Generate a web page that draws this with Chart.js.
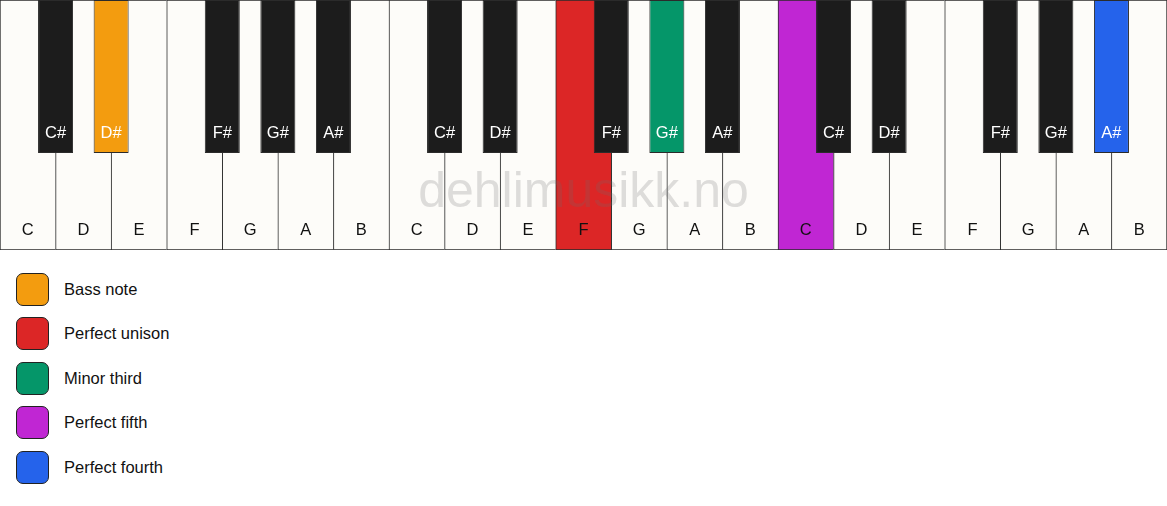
<!DOCTYPE html>
<html>
<head>
<meta charset="utf-8">
<script src="https://cdn.jsdelivr.net/npm/chart.js@4.4.1/dist/chart.umd.min.js"></script>
<style>
  body { margin: 0; background: #fff; font-family: "Liberation Sans", Arial, sans-serif; }
  #wrap { position: relative; width: 1167px; height: 250px; }
  #legend { position: absolute; left: 16px; top: 272px; }
  .item { display: flex; align-items: center; height: 34px; margin-bottom: 10.5px; }
  .box { width: 31px; height: 31px; border: 1.5px solid #222; border-radius: 7px; }
  .lbl { margin-left: 15px; font-size: 16.5px; color: #111; }
</style>
</head>
<body>
<div id="wrap"><canvas id="piano"></canvas></div>
<div id="legend"></div>
<script>
// keyboard: three octaves
var octaves = [1, 2, 3];
var whiteNotes = ['C', 'D', 'E', 'F', 'G', 'A', 'B'];
var blackNotes = ['C#', 'D#', 'F#', 'G#', 'A#'];

// highlighted notes and what they mean
var intervalNames = ['Bass note', 'Perfect unison', 'Minor third', 'Perfect fifth', 'Perfect fourth'];
var intervalNotes = ['D#1', 'F2', 'G#2', 'C3', 'A#3'];
var intervalColors = ['#f39c0f', '#dc2626', '#059669', '#c026d3', '#2563eb'];

var WHITE_FILL = '#fdfcf9';
var BLACK_FILL = '#1c1c1c';
var BLACK_BOTTOM = 0.388;   // how far down the black keys reach
var WHITE_LABEL_Y = 0.08;
var BLACK_LABEL_Y = 0.468;

function colorFor(note, def) {
    var i = intervalNotes.indexOf(note);
    return i >= 0 ? intervalColors[i] : def;
}

var whiteData = [], whiteColors = [], whiteLabels = [];
var blackData = [], blackColors = [], blackLabels = [];
octaves.forEach(function (oct, o) {
    whiteNotes.forEach(function (n, i) {
        var pos = o * whiteNotes.length + i;
        whiteData.push({ x: pos + 0.5, y: [0, 1] });
        whiteColors.push(colorFor(n + oct, WHITE_FILL));
        whiteLabels.push(n);
    });
    blackNotes.forEach(function (n) {
        // a sharp sits on the right edge of its white key
        var pos = o * whiteNotes.length + whiteNotes.indexOf(n[0]) + 1;
        blackData.push({ x: pos, y: [BLACK_BOTTOM, 1] });
        blackColors.push(colorFor(n + oct, BLACK_FILL));
        blackLabels.push(n);
    });
});

var keyLabels = {
    id: 'keyLabels',
    afterDatasetsDraw: function (chart) {
        var ctx = chart.ctx;
        var y = chart.scales.y;
        ctx.save();
        // watermark
        ctx.font = '50px "Liberation Sans", Arial, sans-serif';
        ctx.textAlign = 'center';
        ctx.textBaseline = 'middle';
        ctx.fillStyle = 'rgba(110,110,110,0.22)';
        ctx.fillText('dehlimusikk.no', (chart.chartArea.left + chart.chartArea.right) / 2, 193);

        ctx.font = '16.5px "Liberation Sans", Arial, sans-serif';
        chart.getDatasetMeta(0).data.forEach(function (bar, i) {
            ctx.fillStyle = '#111';
            ctx.fillText(whiteLabels[i], bar.x, y.getPixelForValue(WHITE_LABEL_Y));
        });
        chart.getDatasetMeta(1).data.forEach(function (bar, i) {
            ctx.fillStyle = '#fff';
            ctx.fillText(blackLabels[i], bar.x, y.getPixelForValue(BLACK_LABEL_Y));
        });
        ctx.restore();
    }
};

var ctx = document.getElementById('piano').getContext('2d');
var piano = new Chart(ctx, {
    type: 'bar',
    data: {
        datasets: [{
            label: 'white',
            data: whiteData,
            xAxisID: 'xw',
            backgroundColor: whiteColors,
            borderColor: '#2b2b2b',
            borderWidth: function (c) {
                return { top: 1, bottom: 1, left: 1, right: c.dataIndex === whiteData.length - 1 ? 1 : 0 };
            },
            borderSkipped: false,
            barPercentage: 1,
            categoryPercentage: 1,
            grouped: false,
            order: 2
        }, {
            label: 'black',
            data: blackData,
            xAxisID: 'xb',
            backgroundColor: blackColors,
            borderColor: '#2b2b2b',
            borderWidth: 1,
            borderSkipped: false,
            barPercentage: 0.63,
            categoryPercentage: 1,
            grouped: false,
            order: 1
        }]
    },
    options: {
        responsive: true,
        maintainAspectRatio: false,
        animation: false,
        layout: { padding: 0 },
        plugins: { legend: { display: false }, tooltip: { enabled: false } },
        scales: {
            xw: { type: 'linear', offset: false, min: 0, max: whiteData.length, display: false, ticks: { stepSize: 1 } },
            xb: { type: 'linear', offset: false, min: 0, max: whiteData.length, display: false, ticks: { stepSize: 1 } },
            y: { min: 0, max: 1, display: false }
        }
    },
    plugins: [keyLabels]
});

var legend = document.getElementById('legend');
intervalNames.forEach(function (name, i) {
    var item = document.createElement('div');
    item.className = 'item';
    var box = document.createElement('div');
    box.className = 'box';
    box.style.background = intervalColors[i];
    var lbl = document.createElement('span');
    lbl.className = 'lbl';
    lbl.textContent = name;
    item.appendChild(box);
    item.appendChild(lbl);
    legend.appendChild(item);
});
</script>
</body>
</html>
